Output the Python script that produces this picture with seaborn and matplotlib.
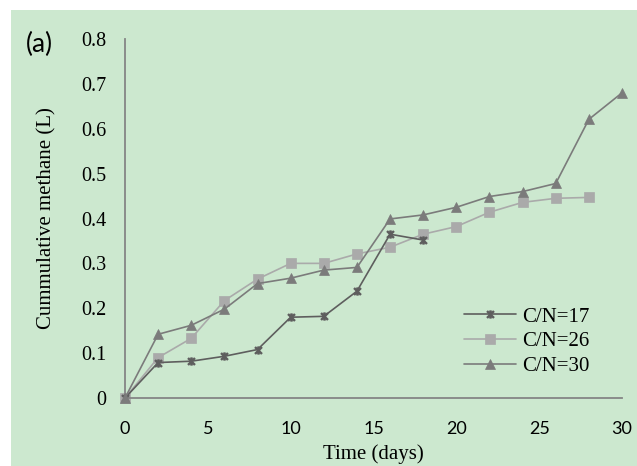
import numpy as np
import pandas as pd
import matplotlib
matplotlib.use("Agg")
import matplotlib.pyplot as plt
from matplotlib.path import Path
from matplotlib.patches import Rectangle
from matplotlib.ticker import MultipleLocator, FuncFormatter
import seaborn as sns

# ---- data ----
days_17 = [0, 2, 4, 6, 8, 10, 12, 14, 16, 18]
cn17 = [0.0, 0.079, 0.082, 0.093, 0.108, 0.180, 0.182, 0.238, 0.365, 0.352]

days_26 = [0, 2, 4, 6, 8, 10, 12, 14, 16, 18, 20, 22, 24, 26, 28]
cn26 = [0.0, 0.090, 0.133, 0.217, 0.265, 0.300, 0.300, 0.321, 0.336, 0.365,
        0.382, 0.414, 0.436, 0.445, 0.447]

days_30 = [0, 2, 4, 6, 8, 10, 12, 14, 16, 18, 20, 22, 24, 26, 28, 30]
cn30 = [0.0, 0.142, 0.162, 0.198, 0.255, 0.267, 0.285, 0.291, 0.399, 0.408,
        0.425, 0.449, 0.460, 0.478, 0.621, 0.680]

labels = ["C/N=17", "C/N=26", "C/N=30"]
x_ticks = [0, 5, 10, 15, 20, 25, 30]
y_ticks = [0, 0.1, 0.2, 0.3, 0.4, 0.5, 0.6, 0.7, 0.8]

# ---- style ----
sns.set_theme(style="white")
plt.rcParams['font.family'] = ['Liberation Serif', 'DejaVu Serif']

bg = "#cce8cf"
fig = plt.figure(figsize=(6.37, 4.66), dpi=100, facecolor="white")
fig.patches.append(Rectangle((11 / 637, 0), 1 - 11 / 637, 1 - 10 / 466,
                             transform=fig.transFigure, facecolor=bg,
                             edgecolor="none", zorder=-10))
ax = fig.add_axes([125 / 637, 1 - 398 / 466, (622 - 125) / 637, (398 - 39) / 466])
ax.set_facecolor("none")

star = Path([(-1, -1), (1, 1), (-1, 1), (1, -1), (0, -1.2), (0, 1.2)],
            [Path.MOVETO, Path.LINETO, Path.MOVETO, Path.LINETO, Path.MOVETO, Path.LINETO])

c17, c26, c30 = "#5e5e5e", "#aaaaaa", "#7b7b7b"

sns.lineplot(x=days_17, y=cn17, ax=ax, color=c17, marker=star, markersize=6,
             markeredgecolor=c17, markeredgewidth=1.7, linewidth=1.2,
             label=labels[0], clip_on=False, zorder=3)
sns.lineplot(x=days_26, y=cn26, ax=ax, color=c26, marker="s", markersize=7,
             markeredgecolor=c26, markeredgewidth=0.5, linewidth=1.2,
             label=labels[1], clip_on=False, zorder=2)
sns.lineplot(x=days_30, y=cn30, ax=ax, color=c30, marker="^", markersize=7.5,
             markeredgecolor=c30, markeredgewidth=0.5, linewidth=1.2,
             label=labels[2], clip_on=False, zorder=4)

ax.set_xlim(0, 30)
ax.set_ylim(0, 0.8)
ax.set_xticks(x_ticks)
ax.set_yticks(y_ticks)
ax.xaxis.set_minor_locator(MultipleLocator(1))
ax.yaxis.set_minor_locator(MultipleLocator(0.05))
ax.yaxis.set_major_formatter(FuncFormatter(lambda v, p: "0" if v == 0 else f"{v:.1f}"))

spine_c = "#858585"
for s in ["top", "right"]:
    ax.spines[s].set_visible(False)
for s in ["left", "bottom"]:
    ax.spines[s].set_color(spine_c)
    ax.spines[s].set_linewidth(1.3)

ax.tick_params(axis="both", which="both", direction="out", color=spine_c, width=1.2)
ax.tick_params(axis="both", which="major", length=4.5)
ax.tick_params(axis="both", which="minor", length=3.5)
ax.tick_params(axis="x", which="major", pad=12, labelsize=13)
ax.tick_params(axis="y", which="major", pad=9, labelsize=14.5)
for t in ax.get_xticklabels():
    t.set_fontfamily(["Lato", "DejaVu Sans"])
    t.set_color("black")
for t in ax.get_yticklabels():
    t.set_color("black")

ax.set_xlabel("Time (days)", fontsize=15, color="black", labelpad=5)
ax.set_ylabel("Cummulative methane (L)", fontsize=15, color="black", labelpad=18)

leg = ax.legend(loc="upper left", bbox_to_anchor=((464 - 125) / 497, (398 - 307) / 359),
                frameon=False, fontsize=15, handlelength=2.5, handletextpad=0.3,
                labelspacing=0.25, borderaxespad=0, borderpad=0)
for t in leg.get_texts():
    t.set_color("black")

fig.text(26 / 637, 1 - 52 / 466, "(a)", fontsize=19, family=["Lato", "DejaVu Sans"],
         color="black")

fig.savefig("out.png", dpi=100, facecolor=fig.get_facecolor())
